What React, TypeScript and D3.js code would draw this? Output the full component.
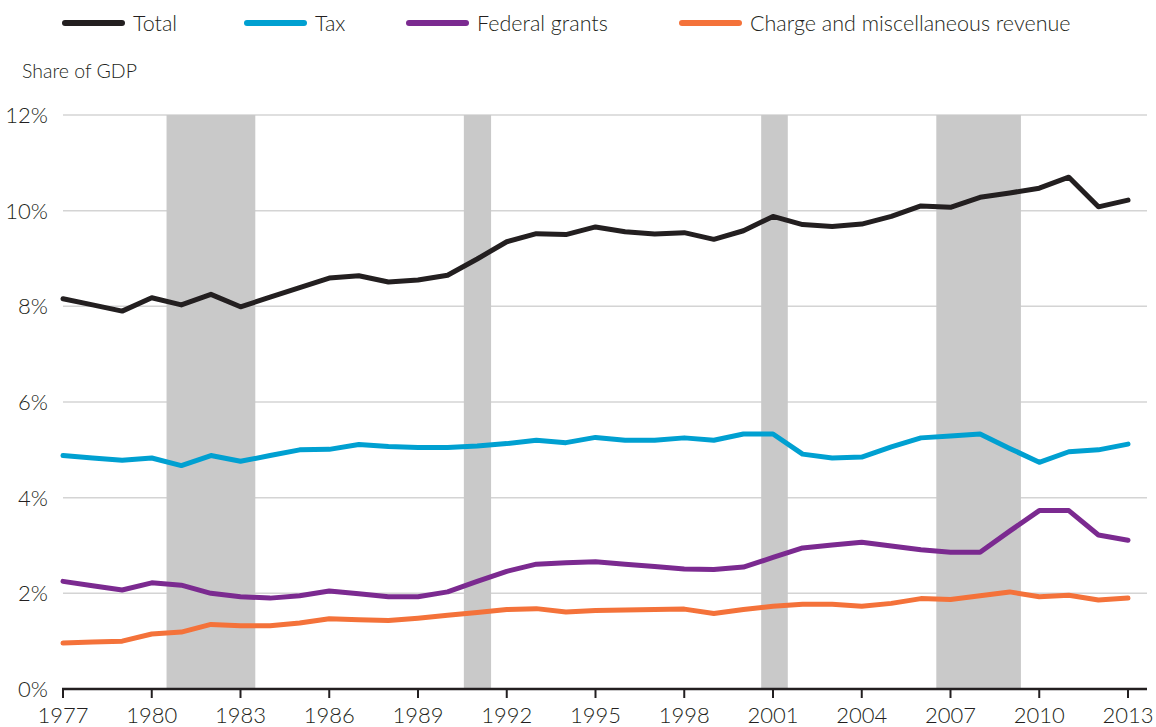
import React, { useRef, useEffect } from "react";
import * as d3 from "d3";

const years = d3.range(1977, 2014);

const total = [
  8.16, 8.03, 7.9, 8.18, 8.03, 8.25, 7.99, 8.19, 8.39, 8.59, 8.64, 8.51, 8.55, 8.65, 8.99, 9.35, 9.52,
  9.5, 9.66, 9.56, 9.51, 9.54, 9.4, 9.58, 9.88, 9.71, 9.67, 9.72, 9.88, 10.1, 10.07, 10.28, 10.37,
  10.47, 10.7, 10.08, 10.22,
];
const tax = [
  4.88, 4.83, 4.78, 4.83, 4.67, 4.88, 4.76, 4.88, 5.0, 5.01, 5.11, 5.07, 5.05, 5.05, 5.08, 5.13, 5.2,
  5.15, 5.26, 5.2, 5.2, 5.25, 5.2, 5.33, 5.33, 4.91, 4.83, 4.85, 5.06, 5.25, 5.29, 5.33, 5.03, 4.74,
  4.96, 5.0, 5.12,
];
const federalGrants = [
  2.25, 2.16, 2.07, 2.22, 2.17, 2.0, 1.93, 1.9, 1.95, 2.05, 1.99, 1.93, 1.93, 2.03, 2.25, 2.46, 2.61,
  2.64, 2.66, 2.61, 2.56, 2.51, 2.5, 2.55, 2.75, 2.95, 3.01, 3.07, 2.99, 2.91, 2.86, 2.86, 3.3, 3.73,
  3.73, 3.22, 3.11,
];
const charges = [
  0.96, 0.98, 1.0, 1.15, 1.19, 1.35, 1.32, 1.32, 1.38, 1.47, 1.45, 1.43, 1.48, 1.54, 1.6, 1.66, 1.68,
  1.61, 1.64, 1.65, 1.66, 1.67, 1.58, 1.66, 1.73, 1.77, 1.77, 1.73, 1.79, 1.89, 1.87, 1.95, 2.03,
  1.93, 1.96, 1.86, 1.9,
];

// recession shading, in fractional years
const recessions: [number, number][] = [
  [1980.5, 1983.5],
  [1990.55, 1991.47],
  [2000.6, 2001.5],
  [2006.52, 2009.38],
];

const yTicks = [0, 2, 4, 6, 8, 10, 12];
const xTicks = d3.range(1977, 2014, 3);

const series = [
  { name: "Total", values: total, color: "#231f20" },
  { name: "Tax", values: tax, color: "#00a0d1" },
  { name: "Federal grants", values: federalGrants, color: "#7b2a90" },
  { name: "Charge and miscellaneous revenue", values: charges, color: "#f4723a" },
];

const W = 1156;
const H = 727;
const FONT = "Lato, 'Open Sans', sans-serif";
const INK = "#231f20";

const Chart: React.FC = () => {
  const svgRef = useRef<SVGSVGElement | null>(null);

  useEffect(() => {
    if (!svgRef.current) return;
    const svg = d3.select(svgRef.current);
    svg.selectAll("*").remove();

    const x = d3.scaleLinear().domain([1977, 2013]).range([63, 1128]);
    const y = d3.scaleLinear().domain([0, 12]).range([689, 115]);
    const axisRight = 1147;

    // gridlines
    svg
      .append("g")
      .selectAll("line")
      .data(yTicks.filter((d) => d > 0))
      .join("line")
      .attr("x1", x(1977))
      .attr("x2", axisRight)
      .attr("y1", (d) => y(d))
      .attr("y2", (d) => y(d))
      .attr("stroke", "#d4d4d4")
      .attr("stroke-width", 1.5);

    // recession bars
    svg
      .append("g")
      .selectAll("rect")
      .data(recessions)
      .join("rect")
      .attr("x", (d) => x(d[0]))
      .attr("width", (d) => x(d[1]) - x(d[0]))
      .attr("y", y(12))
      .attr("height", y(0) - y(12))
      .attr("fill", "#c9c9c9");

    // y labels
    svg
      .append("g")
      .selectAll("text")
      .data(yTicks)
      .join("text")
      .attr("x", 48)
      .attr("y", (d) => y(d))
      .attr("dy", "0.36em")
      .attr("text-anchor", "end")
      .attr("font-family", FONT)
      .attr("font-weight", 300)
      .attr("font-size", 22)
      .attr("fill", INK)
      .text((d) => `${d}%`);

    // x axis
    const xa = svg.append("g").attr("transform", `translate(0,${y(0)})`);
    xa.append("line")
      .attr("x1", x(1977) - 1)
      .attr("x2", axisRight)
      .attr("stroke", INK)
      .attr("stroke-width", 2.5);
    const tick = xa
      .selectAll("g.tick")
      .data(xTicks)
      .join("g")
      .attr("class", "tick")
      .attr("transform", (d) => `translate(${x(d)},0)`);
    tick.append("line").attr("y2", 9).attr("stroke", INK).attr("stroke-width", 2);
    tick
      .append("text")
      .attr("y", 34)
      .attr("text-anchor", "middle")
      .attr("font-family", FONT)
      .attr("font-weight", 300)
      .attr("font-size", 22)
      .attr("fill", INK)
      .text((d) => String(d));

    // lines
    const line = d3
      .line<number>()
      .x((_, i) => x(years[i]))
      .y((d) => y(d));

    svg
      .append("g")
      .selectAll("path")
      .data([...series].reverse())
      .join("path")
      .attr("d", (d) => line(d.values))
      .attr("fill", "none")
      .attr("stroke", (d) => d.color)
      .attr("stroke-width", 5)
      .attr("stroke-linejoin", "round")
      .attr("stroke-linecap", "round");

    // legend
    const legendX = [65, 247, 409, 682];
    const lg = svg
      .append("g")
      .selectAll("g")
      .data(series)
      .join("g")
      .attr("transform", (_, i) => `translate(${legendX[i]},23)`);
    lg.append("line")
      .attr("x1", 0)
      .attr("x2", 57)
      .attr("stroke", (d) => d.color)
      .attr("stroke-width", 6)
      .attr("stroke-linecap", "round");
    lg.append("text")
      .attr("x", 68)
      .attr("dy", "0.36em")
      .attr("font-family", FONT)
      .attr("font-weight", 300)
      .attr("font-size", 21.5)
      .attr("fill", INK)
      .text((d) => d.name);

    svg
      .append("text")
      .attr("x", 22)
      .attr("y", 78)
      .attr("font-family", FONT)
      .attr("font-weight", 300)
      .attr("font-size", 19.5)
      .attr("fill", INK)
      .text("Share of GDP");
  }, []);

  return <svg ref={svgRef} width={W} height={H} style={{ display: "block", background: "#fff" }}></svg>;
};

export default function App() {
  return (
    <div style={{ position: "absolute", top: 0, left: 0 }}>
      <Chart />
    </div>
  );
}
